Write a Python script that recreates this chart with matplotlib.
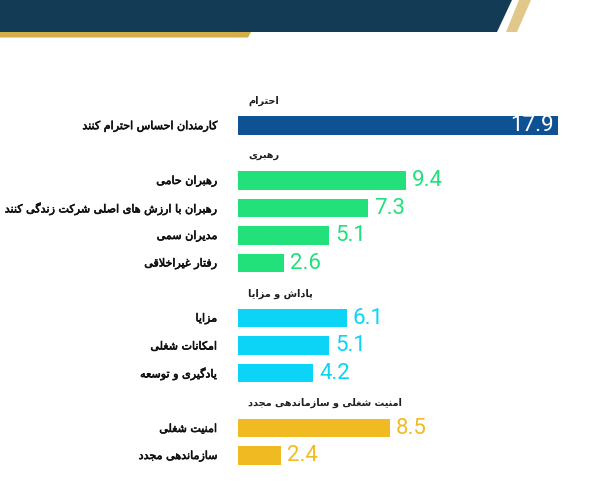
import numpy as np
import matplotlib
matplotlib.use('Agg')
import matplotlib.pyplot as plt
import matplotlib.patheffects as pe
from matplotlib.patches import Polygon

# data
groups = ['احترام', 'رهبری', 'پاداش و مزایا', 'امنیت شغلی و سازماندهی مجدد']
labels = ['کارمندان احساس احترام کنند',
          'رهبران حامی',
          'رهبران با ارزش های اصلی شرکت زندگی کنند',
          'مدیران سمی',
          'رفتار غیراخلاقی',
          'مزایا',
          'امکانات شغلی',
          'یادگیری و توسعه',
          'امنیت شغلی',
          'سازماندهی مجدد']
values = [17.9, 9.4, 7.3, 5.1, 2.6, 6.1, 5.1, 4.2, 8.5, 2.4]
group_of = [0, 1, 1, 1, 1, 2, 2, 2, 3, 3]

group_colors = ['#0E5293', '#22E07A', '#0BD4F6', '#F0BB22']


# matplotlib has no arabic shaping, so pick the presentation forms by hand
def four(b):
    return (b, b + 1, b + 2, b + 3)

FORMS = {
    'ا': (0xFE8D, 0xFE8E), 'آ': (0xFE81, 0xFE82), 'أ': (0xFE83, 0xFE84),
    'د': (0xFEA9, 0xFEAA), 'ذ': (0xFEAB, 0xFEAC), 'ر': (0xFEAD, 0xFEAE),
    'ز': (0xFEAF, 0xFEB0), 'ژ': (0xFB8A, 0xFB8B), 'و': (0xFEED, 0xFEEE),
    'ب': four(0xFE8F), 'پ': four(0xFB56), 'ت': four(0xFE95), 'ث': four(0xFE99),
    'ج': four(0xFE9D), 'چ': four(0xFB7A), 'ح': four(0xFEA1), 'خ': four(0xFEA5),
    'س': four(0xFEB1), 'ش': four(0xFEB5), 'ص': four(0xFEB9), 'ض': four(0xFEBD),
    'ط': four(0xFEC1), 'ظ': four(0xFEC5), 'ع': four(0xFEC9), 'غ': four(0xFECD),
    'ف': four(0xFED1), 'ق': four(0xFED5), 'ک': four(0xFB8E), 'گ': four(0xFB92),
    'ل': four(0xFEDD), 'م': four(0xFEE1), 'ن': four(0xFEE5), 'ه': four(0xFEE9),
    'ی': four(0xFBFC),
}
LAMALEF = {'ا': (0xFEFB, 0xFEFC), 'آ': (0xFEF5, 0xFEF6), 'أ': (0xFEF7, 0xFEF8)}


def shape(s):
    out = []
    n = len(s)
    i = 0
    while i < n:
        c = s[i]
        if c not in FORMS:
            out.append(c)
            i += 1
            continue
        prev = s[i - 1] if i > 0 else ''
        p = prev in FORMS and len(FORMS[prev]) == 4
        if c == 'ل' and i + 1 < n and s[i + 1] in LAMALEF:
            iso, fin = LAMALEF[s[i + 1]]
            out.append(chr(fin if p else iso))
            i += 2
            continue
        f = FORMS[c]
        nx = s[i + 1] if i + 1 < n else ''
        nc = len(f) == 4 and nx in FORMS
        if p and nc:
            k = 3
        elif p:
            k = 1
        elif nc:
            k = 2
        else:
            k = 0
        out.append(chr(f[k]))
        i += 1
    return ''.join(reversed(out))


# slot layout: a header row before every group
rows_y = []
head_y = []
slot = 0
for g in range(len(groups)):
    head_y.append(slot)
    slot += 1
    for k in range(len(values)):
        if group_of[k] == g:
            rows_y.append(slot)
            slot += 1

fig = plt.figure(figsize=(6, 5), dpi=100)

# banner on top
bg = fig.add_axes([0, 0, 1, 1])
bg.set_xlim(0, 600)
bg.set_ylim(500, 0)
bg.axis('off')
bg.add_patch(Polygon([(0, 0), (512, 0), (497, 32), (0, 32)], color='#133B56', lw=0))
bg.add_patch(Polygon([(0, 32), (251, 32), (248, 37.5), (0, 37.5)], color='#D3AD47', lw=0))
bg.add_patch(Polygon([(519, 0), (531, 0), (517, 32), (506, 32)], color='#E2C78A', lw=0))

px_unit = 17.85
ax = fig.add_axes([238 / 600, 30.75 / 500, 352 / 600, 385 / 500])
ax.set_xlim(0, 352 / px_unit)
ax.set_ylim(slot - 0.5, -0.5)
ax.axis('off')

bar_colors = [group_colors[g] for g in group_of]
ax.barh(rows_y, values, height=0.69, color=bar_colors)

heavy = [pe.withStroke(linewidth=0.45, foreground='#111111')]
for k in range(len(values)):
    ax.annotate(shape(labels[k]), xy=(0, rows_y[k]), xytext=(-21, -1),
                textcoords='offset pixels', ha='right', va='center',
                fontsize=8, color='#111111', family='DejaVu Sans',
                path_effects=heavy)
    if k == 0:
        ax.annotate('%.1f' % values[k], xy=(values[k], rows_y[k]), xytext=(-4, 0),
                    textcoords='offset pixels', ha='right', va='center',
                    fontsize=16, color='white', family='Roboto')
    else:
        ax.annotate('%.1f' % values[k], xy=(values[k], rows_y[k]), xytext=(6, 0),
                    textcoords='offset pixels', ha='left', va='center',
                    fontsize=16, color=bar_colors[k], family='Roboto')

for g in range(len(groups)):
    ax.annotate(shape(groups[g]), xy=(0, head_y[g] + 0.1), xytext=(10, 0),
                textcoords='offset pixels', ha='left', va='center',
                fontsize=7, fontweight='bold', color='#1E1E1E', family='DejaVu Sans')

plt.savefig('out.png', dpi=100)
